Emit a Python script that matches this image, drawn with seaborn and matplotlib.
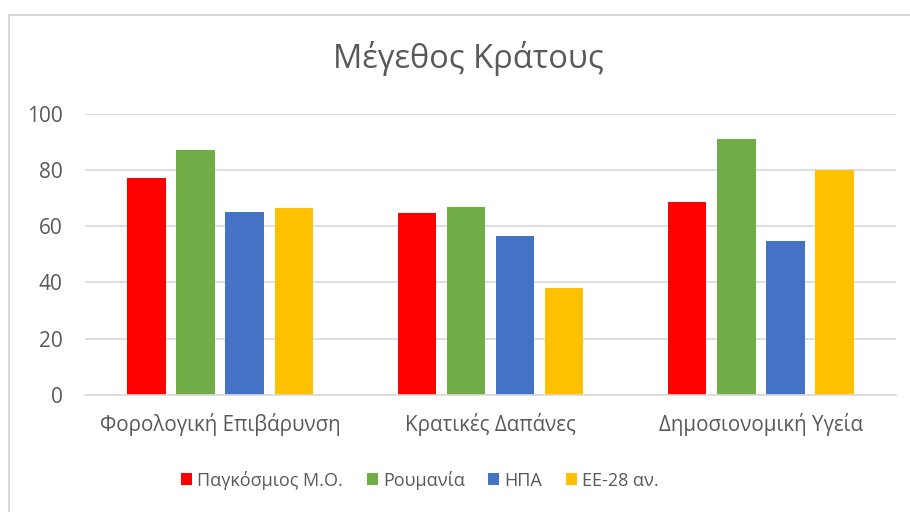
import matplotlib
matplotlib.use("Agg")
import matplotlib.pyplot as plt
import seaborn as sns
import pandas as pd
from matplotlib.lines import Line2D

categories = ["Φορολογική Επιβάρυνση", "Κρατικές Δαπάνες", "Δημοσιονομική Υγεία"]
series = ["Παγκόσμιος Μ.Ο.", "Ρουμανία", "ΗΠΑ", "ΕΕ-28 αν."]
world = [77.0, 64.7, 68.5]
romania = [87.2, 66.7, 91.0]
usa = [64.9, 56.4, 54.6]
eu28 = [66.4, 38.0, 80.0]
colors = ["#FF0000", "#70AD47", "#4472C4", "#FFC000"]
yticks = [0, 20, 40, 60, 80, 100]

rows = []
for s, vals in zip(series, [world, romania, usa, eu28]):
    for c, v in zip(categories, vals):
        rows.append({"cat": c, "series": s, "value": v})
df = pd.DataFrame(rows)

sns.set_style("white")
plt.rcParams["font.family"] = ["Open Sans", "DejaVu Sans"]
text_col = "#595959"

fig = plt.figure(figsize=(9.1, 5.12), dpi=100)
W, H = 910, 512
ax = fig.add_axes([85 / W, 1 - 395 / H, (896 - 85) / W, (395 - 113.7) / H])

sns.barplot(data=df, x="cat", y="value", hue="series", order=categories,
            hue_order=series, palette=colors, width=0.726, gap=0.215,
            saturation=1, ax=ax, legend=True, edgecolor="none")

ax.set_ylim(0, 100)
ax.set_xlim(-0.5, 2.5)
ax.set_yticks(yticks)
ax.set_yticklabels([str(t) for t in yticks], fontsize=15, color=text_col)
ax.set_xticklabels(categories, fontsize=14.8, color=text_col)
ax.tick_params(axis="x", length=0, pad=13)
ax.tick_params(axis="y", length=0, pad=16)
ax.set_xlabel("")
ax.set_ylabel("")
ax.yaxis.grid(True, color="#D9D9D9", linewidth=1.2)
ax.set_axisbelow(True)
for sp in ["top", "right", "left"]:
    ax.spines[sp].set_visible(False)
ax.spines["bottom"].set_color("#D9D9D9")
ax.spines["bottom"].set_linewidth(1.2)

handles, labels = ax.get_legend_handles_labels()
ax.legend_.remove()
fig.legend(handles, labels, loc="center", bbox_to_anchor=(420 / W, 1 - 480 / H),
           ncol=4, frameon=False, fontsize=13, labelcolor=text_col,
           handlelength=0.6, handleheight=0.6, handletextpad=0.3,
           columnspacing=1.3)

fig.text(468 / W, 1 - 58 / H, "Μέγεθος Κράτους", ha="center", va="center",
         fontsize=23.5, color=text_col)

fig.add_artist(Line2D([8.5 / W, 8.5 / W], [0, 1 - 14.5 / H], transform=fig.transFigure,
                      color="#D9D9D9", linewidth=1.5))
fig.add_artist(Line2D([8.5 / W, 1], [1 - 14.5 / H, 1 - 14.5 / H], transform=fig.transFigure,
                      color="#D9D9D9", linewidth=1.5))

fig.savefig("out.png", dpi=100)
